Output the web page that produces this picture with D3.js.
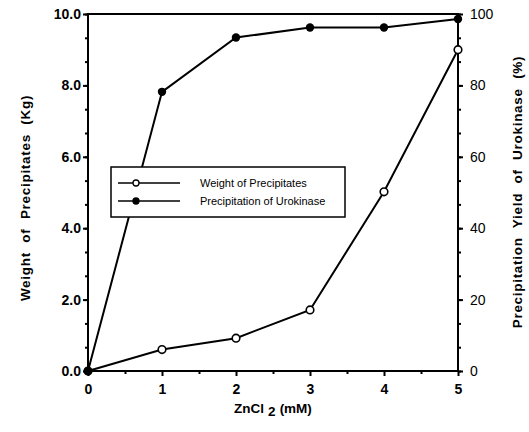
<!DOCTYPE html>
<meta charset="utf-8">
<title>ZnCl2 precipitation</title>
<script src="https://cdn.jsdelivr.net/npm/d3@7"></script>
<style>
body { margin: 0; background: #fff; }
text { font-family: "Liberation Sans", Arial, sans-serif; fill: #000; }
.tick-label { font-size: 14px; font-weight: bold; }
.tick-label.plain { font-weight: normal; }
.axis-title { font-size: 13.5px; font-weight: bold; word-spacing: 5px; letter-spacing: 0.7px; }
.legend-text { font-family: "Liberation Sans Narrow", "Liberation Sans", sans-serif; font-size: 11px; }
</style>
<body>
<script>

// data
var zncl = [0, 1, 2, 3, 4, 5];
var weight = [0.0, 0.6, 0.92, 1.71, 5.02, 9.0];        // kg, left axis
var yieldPct = [0.0, 78.2, 93.4, 96.2, 96.2, 98.6];    // %, right axis
var leftTicks = [0, 2, 4, 6, 8, 10];
var rightTicks = [0, 20, 40, 60, 80, 100];
var xTicks = [0, 1, 2, 3, 4, 5];
var legendNames = ["Weight of Precipitates", "Precipitation of Urokinase"];

var W = 529, H = 432;
var margin = {top: 14, right: 71, bottom: 61, left: 88};

var svg = d3.select("body").append("svg")
    .attr("width", W)
    .attr("height", H);

var x = d3.scaleLinear().domain([0, 5]).range([margin.left, W - margin.right]);
var yL = d3.scaleLinear().domain([0, 10]).range([H - margin.bottom, margin.top]);
var yR = d3.scaleLinear().domain([0, 100]).range([H - margin.bottom, margin.top]);

var stroke = 2;

// frame
svg.append("rect")
    .attr("x", x(0)).attr("y", yL(10))
    .attr("width", x(5) - x(0)).attr("height", yL(0) - yL(10))
    .attr("fill", "none").attr("stroke", "#000").attr("stroke-width", stroke);

// left axis
var gl = svg.append("g").attr("transform", "translate(" + x(0) + ",0)");
gl.call(d3.axisLeft(yL).tickValues(leftTicks).tickSize(5).tickFormat(d3.format(".1f")));
gl.append("g").call(d3.axisLeft(yL).tickValues(d3.range(0, 10.01, 2/3)).tickSize(3).tickFormat(""));

// right axis
var gr = svg.append("g").attr("transform", "translate(" + x(5) + ",0)");
gr.call(d3.axisRight(yR).tickValues(rightTicks).tickSize(5).tickFormat(d3.format("d")));
gr.append("g").call(d3.axisRight(yR).tickValues(d3.range(0, 100.1, 20/3)).tickSize(3).tickFormat(""));

// bottom axis
var gb = svg.append("g").attr("transform", "translate(0," + yL(0) + ")");
gb.call(d3.axisBottom(x).tickValues(xTicks).tickSize(5).tickFormat(d3.format("d")));
gb.append("g").call(d3.axisBottom(x).tickValues(d3.range(0.5, 5, 1)).tickSize(3).tickFormat(""));

svg.selectAll(".domain").remove();
svg.selectAll(".tick line").attr("stroke", "#000").attr("stroke-width", stroke);
svg.selectAll(".tick text").attr("class", "tick-label").attr("fill", "#000");
gl.selectAll(".tick text").attr("x", -7);
gr.selectAll(".tick text").attr("x", 12).attr("class", "tick-label plain");
gb.selectAll(".tick text").attr("y", 13);

// series
var lineW = d3.line().x(function(d, i) { return x(zncl[i]); }).y(function(d) { return yL(d); });
var lineY = d3.line().x(function(d, i) { return x(zncl[i]); }).y(function(d) { return yR(d); });

svg.append("path").datum(weight).attr("d", lineW)
    .attr("fill", "none").attr("stroke", "#000").attr("stroke-width", stroke);
svg.append("path").datum(yieldPct).attr("d", lineY)
    .attr("fill", "none").attr("stroke", "#000").attr("stroke-width", stroke);

svg.selectAll(".pw").data(weight).enter().append("circle")
    .attr("cx", function(d, i) { return x(zncl[i]); })
    .attr("cy", function(d) { return yL(d); })
    .attr("r", 3.8).attr("fill", "#fff").attr("stroke", "#000").attr("stroke-width", 1.6);
svg.selectAll(".py").data(yieldPct).enter().append("circle")
    .attr("cx", function(d, i) { return x(zncl[i]); })
    .attr("cy", function(d) { return yR(d); })
    .attr("r", 4.2).attr("fill", "#000");

// axis titles
svg.append("text").attr("class", "axis-title")
    .attr("transform", "translate(30,198) rotate(-90)")
    .attr("text-anchor", "middle")
    .text("Weight of Precipitates (Kg)");
svg.append("text").attr("class", "axis-title")
    .attr("transform", "translate(522,192) rotate(-90)")
    .attr("text-anchor", "middle")
    .text("Precipitation Yield of Urokinase (%)");
var xt = svg.append("text").attr("class", "axis-title")
    .attr("x", (x(0) + x(5)) / 2).attr("y", 413)
    .attr("text-anchor", "middle")
    .style("word-spacing", "0px").style("letter-spacing", "0px");
xt.append("tspan").text("ZnCl");
xt.append("tspan").attr("dx", 4).attr("dy", 3).text("2");
xt.append("tspan").attr("dx", 4).attr("dy", -3).text("(mM)");

// legend
var lg = svg.append("g");
lg.append("rect")
    .attr("x", 111).attr("y", 167).attr("width", 234).attr("height", 50)
    .attr("fill", "#fff").attr("stroke", "#000").attr("stroke-width", 1.5);
legendNames.forEach(function(name, i) {
  var yy = 183 + i * 18;
  lg.append("line").attr("x1", 118).attr("x2", 180).attr("y1", yy).attr("y2", yy)
      .attr("stroke", "#000").attr("stroke-width", 1.5);
  lg.append("circle").attr("cx", 136).attr("cy", yy).attr("r", 3)
      .attr("fill", i === 0 ? "#fff" : "#000").attr("stroke", "#000").attr("stroke-width", 1.3);
  lg.append("text").attr("class", "legend-text")
      .attr("x", 200).attr("y", yy + 4).text(name);
});

</script>
</body>
</html>
